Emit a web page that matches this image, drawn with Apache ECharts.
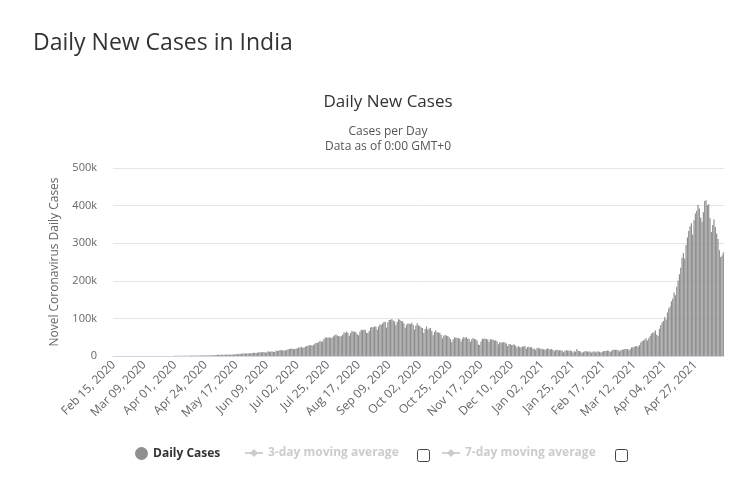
<!DOCTYPE html>
<html>
<head>
<meta charset="utf-8">
<script src="https://cdn.jsdelivr.net/npm/echarts@6/dist/echarts.min.js"></script>
<style>
html,body{margin:0;padding:0;background:#fff;}
#main{width:735px;height:479px;}
</style>
</head>
<body>
<div id="main"></div>
<script>
// ---- data (daily new cases, India) ----
var startDate = [2020, 1, 15]; // Feb 15, 2020 (month 0-based)
var feb2020 = [0,0,0,0,0,0,0,0,0,0,0,0,0,0,0];
var mar2020 = [0,2,1,22,2,1,3,5,9,15,8,10,10,12,22,23,16,19,27,58,78,69,94,74,86,73,153,136,120,187,309];
var apr2020 = [424,486,560,579,609,484,573,565,813,871,854,758,1243,1031,886,1061,922,1371,1580,1239,1537,1292,1667,1408,1835,1607,1561,1873,1738,1801];
var may2020 = [2394,2442,2806,3932,2963,3587,3364,3344,3113,4353,3607,3524,3763,3942,3787,4864,5050,4630,6147,5553,6198,6568,6629,7111,6414,6535,7246,7254,8138,8364,8789];
var jun2020 = [7723,8812,9689,9847,9472,10408,10882,8536,10218,12375,11128,11886,12039,11374,10667,14516,13105,13827,15918,15403,15158,14821,14933,16922,17296,18552,19906,19459,18522,18653];
var jul2020 = [19428,20903,22771,22714,24850,22252,22753,24879,26506,27114,28637,29108,28178,28498,32682,35468,34820,37411,40243,37740,39170,45720,48916,49310,48472,49931,47703,48513,52123,55078,57118];
var aug2020 = [54735,52972,52050,52509,56282,62538,61537,64399,62064,53601,60963,66999,64553,65002,63490,57981,55079,64531,69652,68898,69878,69874,61408,60975,67151,75760,77266,76472,78761,78512,69921];
var sep2020 = [78357,83883,83341,86432,90632,90802,75809,89706,95735,96551,97570,94372,92071,81911,90123,97894,96424,93337,92605,86961,75083,83347,86508,86052,85362,88600,82170,70589,80472,86821];
var oct2020 = [81484,79476,75829,74442,61267,72049,78524,70496,73272,74383,66732,55342,63509,67708,63371,62212,61871,55722,46790,54044,55839,54366,53370,50129,45148,36469,43893,49881,48648,48268,46963];
var nov2020 = [46232,38310,46253,50210,47638,50356,45674,45903,38073,44281,47905,44879,44878,41100,30548,29163,38617,45576,45882,46232,45209,44059,37975,44376,44489,43082,41322,41810,38772,31118];
var dec2020 = [36604,35551,36595,36652,36011,32981,26567,32080,31521,29398,30006,30254,27071,22065,26382,24010,22890,25153,25152,26624,19556,23950,24712,23067,23068,18732,20021,16432,20550,21822,20035];
var jan2021 = [19079,18177,18088,16504,18088,20346,18139,18222,18645,16311,12584,15968,16946,15590,15158,15144,13788,10064,13823,15223,14545,14256,14849,13203,9102,12689,11666,18855,13083,13052,11427];
var feb2021 = [8635,11039,12899,12408,11713,12059,11831,9110,11067,12923,9309,12143,12194,11649,9121,11610,12881,13193,13993,14264,14199,10584,13742,16738,16577,16488,16752,15510];
var mar2021 = [12286,14989,17407,16838,18327,18711,18599,15388,17921,22854,23285,24882,25320,26291,24492,28903,35871,39726,40953,43846,46951,40715,47262,53476,59118,62258,62714,68020,56211,53480,72330];
var apr2021 = [81466,89129,93249,103558,96982,115736,126789,131968,145384,152879,168912,161736,184372,200739,217353,234692,261500,273810,259170,295041,314835,332730,345147,352991,323144,360960,379257,386452,401993,392562];
var may2021 = [368147,357229,382315,412262,414188,401078,403738,366161,329942,348421,362727,343144,326098,311170,281386,263533,267334,275000];
var yTicks = [0, 100000, 200000, 300000, 400000, 500000];

var dailyCases = [].concat(feb2020, mar2020, apr2020, may2020, jun2020, jul2020, aug2020, sep2020, oct2020, nov2020, dec2020, jan2021, feb2021, mar2021, apr2021, may2021);
var monthNames = ['Jan','Feb','Mar','Apr','May','Jun','Jul','Aug','Sep','Oct','Nov','Dec'];
var categories = [];
for (var i = 0; i < dailyCases.length; i++) {
  var d = new Date(Date.UTC(startDate[0], startDate[1], startDate[2] + i));
  var dd = d.getUTCDate();
  categories.push(monthNames[d.getUTCMonth()] + ' ' + (dd < 10 ? '0' + dd : dd) + ', ' + d.getUTCFullYear());
}

var FONT = '"Open Sans", "Noto Sans", sans-serif';
var chart = echarts.init(document.getElementById('main'), null, {renderer: 'canvas'});
chart.setOption({
  backgroundColor: '#fff',
  animation: false,
  textStyle: {fontFamily: FONT},
  title: [
    {text: 'Daily New Cases in India', left: 28, top: 27,
     textStyle: {fontSize: 23, fontWeight: 'normal', color: '#333', fontFamily: FONT}},
    {text: 'Daily New Cases', left: 383, top: 89, textAlign: 'center',
     textStyle: {fontSize: 17, fontWeight: 'normal', color: '#333', fontFamily: FONT}},
    {text: 'Cases per Day\nData as of 0:00 GMT+0', left: 383, top: 119, textAlign: 'center',
     textStyle: {fontSize: 12, lineHeight: 15, fontWeight: 'normal', color: '#555', fontFamily: FONT}}
  ],
  grid: {left: 113, right: 11, top: 168, bottom: 123, containLabel: false},
  legend: [
    {data: [{name: 'Daily Cases', icon: 'circle'}], left: 130, top: 442, itemWidth: 13, itemHeight: 13, itemGap: 6,
     textStyle: {fontSize: 12, fontWeight: 'bold', color: '#333', fontFamily: FONT}},
    {data: ['3-day moving average'], left: 239, top: 442, itemWidth: 18, itemHeight: 10, inactiveColor: '#ccc',
     selected: {'3-day moving average': false},
     textStyle: {fontSize: 12, fontWeight: 'bold', color: '#333', fontFamily: FONT}},
    {data: ['7-day moving average'], left: 436, top: 442, itemWidth: 18, itemHeight: 10, inactiveColor: '#ccc',
     selected: {'7-day moving average': false},
     textStyle: {fontSize: 12, fontWeight: 'bold', color: '#333', fontFamily: FONT}}
  ],
  graphic: [
    {type: 'rect', left: 417, top: 449, shape: {width: 12, height: 12, r: 2}, style: {fill: '#fff', stroke: '#444', lineWidth: 1}},
    {type: 'rect', left: 615, top: 449, shape: {width: 12, height: 12, r: 2}, style: {fill: '#fff', stroke: '#444', lineWidth: 1}}
  ],
  xAxis: {
    type: 'category',
    data: categories,
    boundaryGap: true,
    axisLine: {lineStyle: {color: '#ccd6eb'}},
    axisTick: {show: false},
    axisLabel: {interval: 22, rotate: 45, fontSize: 12, color: '#666', margin: 7, fontFamily: FONT}
  },
  yAxis: {
    type: 'value',
    min: yTicks[0], max: yTicks[yTicks.length - 1], interval: yTicks[1] - yTicks[0],
    name: 'Novel Coronavirus Daily Cases',
    nameLocation: 'middle', nameGap: 52, nameRotate: 90,
    nameTextStyle: {fontSize: 12, color: '#666', fontFamily: FONT},
    axisLine: {show: false}, axisTick: {show: false},
    splitLine: {lineStyle: {color: '#e6e6e6'}},
    axisLabel: {fontSize: 11, color: '#666', margin: 16, fontFamily: FONT,
      formatter: function (v) { return v === 0 ? '0' : (v / 1000) + 'k'; }}
  },
  series: [
    {name: 'Daily Cases', type: 'bar', data: dailyCases, barCategoryGap: '10%',
     itemStyle: {color: '#8f8f8f'}, large: false},
    {name: '3-day moving average', type: 'line', data: [], symbol: 'diamond', symbolSize: 8,
     itemStyle: {color: '#999'}, lineStyle: {color: '#999'}},
    {name: '7-day moving average', type: 'line', data: [], symbol: 'diamond', symbolSize: 8,
     itemStyle: {color: '#999'}, lineStyle: {color: '#999'}}
  ]
});
</script>
</body>
</html>
